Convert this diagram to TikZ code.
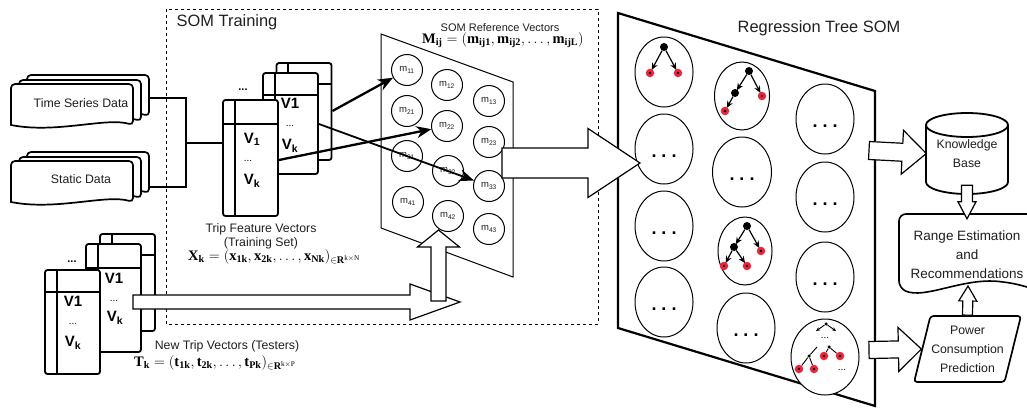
\documentclass[tikz,border=0pt]{standalone}
\usepackage{amsmath,amssymb}
\usepackage{fontspec}
\setmainfont{Liberation Serif}
\setsansfont{Liberation Sans}
\usepackage{tikz}
\usetikzlibrary{arrows.meta,calc,positioning,shapes.geometric}
\usepackage{xcolor}
\definecolor{leafred}{RGB}{236,38,58}

\begin{document}
\begin{tikzpicture}[x=1pt, y=-1pt,
  every node/.style={font=\sffamily\fontsize{12.3}{14}\selectfont, align=center, inner sep=0pt, text=black!88},
  titlelabel/.style={font=\sffamily\fontsize{16.4}{20}\selectfont},
  smalllabel/.style={font=\sffamily\fontsize{11}{13}\selectfont},
  stackedlabel/.style={font=\sffamily\fontsize{12.3}{19}\selectfont},
  formula/.style={font=\fontsize{14.5}{16}\selectfont, anchor=west, text=black},
  vlabel/.style={font=\sffamily\bfseries\fontsize{15}{17}\selectfont, text=black},
  minidots/.style={font=\sffamily\fontsize{10}{12}\selectfont, text=black},
  celldots/.style={font=\sffamily\bfseries\fontsize{18}{18}\selectfont, anchor=base, text=black},
  tablebox/.style={draw, fill=white, line width=1.8pt, rounded corners=2.5pt, minimum width=55pt},
  tableline/.style={line width=1.8pt},
  wire/.style={line width=1.7pt},
  refcell/.style={draw, circle, line width=1pt, minimum size=31pt, font=\sffamily\fontsize{9.5}{11}\selectfont},
  treecell/.style={draw, ellipse, fill=white, line width=1pt},
  innerdot/.style={circle, fill=black, minimum size=8pt},
  leafdot/.style={circle, fill=leafred, minimum size=8.5pt,
    path picture={\fill[black] (path picture bounding box.center) circle (1.3pt);}},
  minidot/.style={circle, fill=black, minimum size=3.5pt},
  treeedge/.style={line width=1.2pt, -{Stealth[length=7pt,width=6pt]}, shorten >=-1pt},
  miniedge/.style={line width=0.9pt},
  bigedge/.style={line width=2.3pt, -{Stealth[length=15pt,width=12pt]}},
  fat/.style n args={3}{draw, fill=white, line width=1.2pt, to path={
    ($(\tikztotarget)!#3!(\tikztostart)$) coordinate (hb)
    ($(\tikztostart)!#1!90:(\tikztotarget)$) -- ($(hb)!#1!90:(\tikztotarget)$)
    -- ($(hb)!#2!90:(\tikztotarget)$) -- (\tikztotarget)
    -- ($(hb)!#2!-90:(\tikztotarget)$) -- ($(hb)!#1!-90:(\tikztotarget)$)
    -- ($(\tikztostart)!#1!-90:(\tikztotarget)$) -- cycle}},
  docsheet/.pic={
    \draw[fill=white, line width=1.7pt, rounded corners=4pt] (0,41) -- (0,0) -- (122,0) -- (122,41)
      [sharp corners] .. controls (95,33) and (45,50) .. (0,41) -- cycle;
  }]

\useasboundingbox (0,0) rectangle (1027,407);

% Training box
\draw[dashed, line width=0.8pt, dash pattern=on 3pt off 3pt] (166,9) rectangle (598,324);
\node[titlelabel] at (227,22) {SOM Training};

% Input data sheets
\foreach \dy in {0,77} {
  \foreach \dx/\dz in {16/-9,8/-4,0/0} {
    \pic at (11+\dx,84+\dy+\dz) {docsheet};
  }
}
\node[minimum width=134pt] (tsd) at (81,103) {Time Series Data};
\node[minimum width=134pt] (sd) at (81,179) {Static Data};

% Trip feature tables
\foreach \nm/\cx/\cy/\ht/\vx/\hy in {tf3/304/111.5/97/288/84,tf2/290.5/123.5/101/275/95,tf1/250.5/158/116/235/124,
    tn3/127.5/282.5/97/112/255,tn2/113.5/298/108/98/268,tn1/72.5/322/104/57/292} {
  \node[tablebox, minimum height=\ht] (\nm) at (\cx,\cy) {};
  \draw[tableline] (\vx,0 |- \nm.north) -- (\vx,0 |- \nm.south);
  \draw[tableline] (\nm.west |- 0,\hy) -- (\nm.east |- 0,\hy);
}
\node[minidots, font=\sffamily\bfseries\fontsize{11}{12}\selectfont] at (243,90) {...};
\node[minidots, font=\sffamily\bfseries\fontsize{11}{12}\selectfont] at (72,262) {...};
\node[vlabel] at (252,139) {V\textsubscript{1}};
\node[minidots] at (248,161) {...};
\node[vlabel] at (252,181) {V\textsubscript{k}};
\node[vlabel] at (290,103) {V1};
\node[minidots] at (290,126) {...};
\node[vlabel] at (290,146) {V\textsubscript{k}};
\node[vlabel] at (73,301) {V1};
\node[minidots] at (73,324) {...};
\node[vlabel] at (73,343) {V\textsubscript{k}};
\node[vlabel] at (114,278) {V1};
\node[minidots] at (114,301) {...};
\node[vlabel] at (115,318) {V\textsubscript{k}};

\coordinate (jn) at (186,143);
\draw[wire] (tsd.east |- 0,98) -| (jn);
\draw[wire] (sd.east |- 0,187) -| (jn);
\draw[wire] (jn) -- (tf1.west |- jn);

\node at (261,236) {Trip Feature Vectors\\(Training Set)};
\node[formula] (xk) at (188,257) {$\mathbf{X_k}=(\mathbf{x_{1k}},\mathbf{x_{2k}},\ldots,\mathbf{x_{Nk}})_{\in\mathbf{R}^{\mathrm{k\times N}}}$};
\node at (227,346) {New Trip Vectors (Testers)};
\node[formula] (tk) at (134,363) {$\mathbf{T_k}=(\mathbf{t_{1k}},\mathbf{t_{2k}},\ldots,\mathbf{t_{Pk}})_{\in\mathbf{R}^{\mathrm{k\times P}}}$};

% SOM reference vectors
\draw[fill=white, line width=1pt] (381,34) -- (513,82) -- (513,277) -- (381,228) -- cycle;
\node[smalllabel] at (500,27.5) {SOM Reference Vectors};
\node[formula] (mij) at (422,40) {$\mathbf{M_{ij}}=(\mathbf{m_{ij1}},\mathbf{m_{ij2}},\ldots,\mathbf{m_{ijL}})$};
\foreach \r/\c/\x/\y in {1/1/407/70,1/2/447/85,1/3/489/101,2/1/407/111,2/2/447/126,2/3/489/142,
    3/1/407/156,3/2/448/171,3/3/489/186,4/1/408/202,4/2/448/216,4/3/489/229} {
  \node[refcell] (m\r\c) at (\x,\y) {m\textsubscript{\r\c}};
}
\draw[bigedge] (tf3.east |- 0,111) -- (m11);
\draw[bigedge] (tf1.east |- 0,160) -- (m22);
\draw[bigedge, line width=1.8pt] (tf2.east |- 0,124) -- (m33);

% New trips into the map
\coordinate (nw) at (133,302);
\coordinate (ne) at (460,302);
\coordinate (ns) at (438.5,301);
\coordinate (m42tip) at (438.5,230);
\draw[fat={7pt}{18pt}{50pt}] (nw) to (ne);
\draw[fat={7.5pt}{21pt}{17pt}] (ns) to (m42tip);

% Regression tree panel
\draw[fill=white, line width=2.2pt] (618,13) -- (875,91) -- (875,406) -- (618,328) -- cycle;
\node[titlelabel] at (819,28) {Regression Tree SOM};
\foreach \nm/\x/\y/\w/\h/\d in {c11/664/72/58/70/0,c12/664/149/58/70/1,c13/664/226/58/70/1,c14/664/302/58/70/1,
    c21/742/96/55/68/0,c22/742/172/59/70/1,c23/745/251/54/68/0,c24/746/328/58/70/1,
    c31/825/119/58/70/1,c32/825/197/58/70/1,c33/825/277/58/70/1,c34/825/357/68/76/0} {
  \node[treecell, minimum width=\w, minimum height=\h] (\nm) at (\x,\y) {};
  \ifnum\d=1 \node[celldots] at (\x,\y+8) {.\ .\ .}; \fi
}
\foreach \nm/\x/\y in {a0/664/47,b0/749/71,b1/735/93,d0/747/226,d1/734/247} {
  \node[innerdot] (\nm) at (\x,\y) {};
}
\foreach \nm/\x/\y in {a1/650/73,a2/678/73,b2/762/96,b3/725/111,d2/761/251,d3/724/266,d4/747/266,
    e4/824/356,e5/840/356,e6/799/369,e7/814/369} {
  \node[leafdot] (\nm) at (\x,\y) {};
}
\foreach \nm/\tg in {a0/a1,a0/a2,b0/b1,b0/b2,b1/b3,d0/d1,d0/d2,d1/d3,d1/d4} {
  \draw[treeedge] (\nm) -- (\tg);
}
\node[minidot] (s0) at (826,324) {};
\coordinate (s1) at (816,331);
\coordinate (s2) at (836,331);
\node[minidot] (e0) at (809,356) {};
\node[minidot] (e1) at (829,347) {};
\coordinate (e2) at (817,347);
\draw[miniedge, -{Stealth[length=4pt,width=3.5pt]}] (s0) -- (s1);
\draw[miniedge, -{Stealth[length=4pt,width=3.5pt]}] (s0) -- (s2);
\foreach \nm/\tg in {e2/e0,e0/e6,e0/e7,e1/e4,e1/e5} {
  \draw[miniedge] (\nm) -- (\tg);
}
\node[minidots] at (825,338) {...};
\node[minidots] at (842,370) {...};

% Map to tree panel
\coordinate (fs) at (502,163);
\coordinate (ft) at (640,163);
\draw[fat={15pt}{34.5pt}{52pt}] (fs) to (ft);

% Outputs
\draw[fill=white, line width=1.8pt] (926,125) -- (926,182) .. controls (926,188.6) and (944.4,194) .. (967,194)
  .. controls (989.6,194) and (1008,188.6) .. (1008,182) -- (1008,125);
\draw[fill=white, line width=1.8pt] (967,125) ellipse [x radius=41, y radius=12];
\node[stackedlabel, minimum width=81pt, minimum height=81pt] (kb) at (967,153.5) {Knowledge\\Base};
\draw[fill=white, line width=1.6pt, rounded corners=7pt] (1027,214) -- (899,214) -- (899,288)
  [sharp corners] .. controls (925,300) and (965,276) .. (1003,282) .. controls (1012,283) and (1020,285) .. (1027,287);
\node[stackedlabel, font=\sffamily\fontsize{13.5}{19}\selectfont, minimum height=72pt] (re) at (967,255) {Range Estimation\\and\\Recommendations};
\node[stackedlabel, draw, fill=white, trapezium, trapezium left angle=71, trapezium right angle=109, trapezium stretches=true,
  line width=1.7pt, rounded corners=3pt, minimum width=107pt, minimum height=66pt] (pw) at (967.5,349)
  {Power\\Consumption\\Prediction};
\coordinate (kbs) at ($(kb.south)+(0,-9)$);
\coordinate (ret) at (968,286);
\coordinate (t1) at (869,150.5);
\coordinate (t2) at (869,350);
\draw[fat={5.5pt}{9pt}{17pt}] (kbs) to (re.north);
\draw[fat={5pt}{9pt}{15pt}] (pw.north) to (ret);
\draw[fat={9pt}{22pt}{24pt}] (t1) to (kb.west);
\draw[fat={8.5pt}{22pt}{23pt}] (t2) to (pw.west);

\end{tikzpicture}
\end{document}
